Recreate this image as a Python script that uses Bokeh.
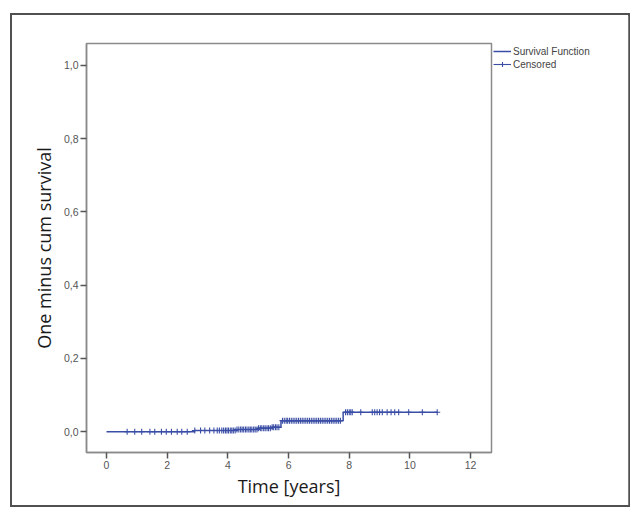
from bokeh.plotting import figure
from bokeh.models import (ColumnDataSource, Legend, LegendItem, FixedTicker,
                          CustomJSTickFormatter, Range1d)
from bokeh.embed import file_html
from bokeh.resources import INLINE
import numpy as np

# Step function of one minus cumulative survival
event_times = [0.0, 2.9, 4.3, 5.0, 5.45, 5.75, 7.8, 10.9]
event_values = [0.0, 0.003, 0.006, 0.009, 0.012, 0.030, 0.053, 0.053]

# Censored observation times (years)
censored_times = [
    0.68, 0.93, 1.16, 1.43, 1.59, 1.81, 1.97, 2.14, 2.33, 2.48, 2.66, 2.91,
    3.10, 3.24, 3.40, 3.54, 3.65, 3.72, 3.80, 3.86, 3.92, 3.97, 4.02, 4.08,
    4.13, 4.18, 4.24, 4.30, 4.36, 4.42, 4.47, 4.52, 4.58, 4.63, 4.69, 4.74,
    4.79, 4.85, 4.90, 4.96, 5.01, 5.07, 5.12, 5.18, 5.23, 5.29, 5.34, 5.40,
    5.46, 5.51, 5.57, 5.62, 5.68,
    5.80, 5.86, 5.92, 5.97, 6.03, 6.09, 6.15, 6.21, 6.27, 6.33, 6.39, 6.45,
    6.51, 6.57, 6.63, 6.69, 6.75, 6.81, 6.87, 6.93, 6.99, 7.05, 7.11, 7.17,
    7.23, 7.29, 7.35, 7.41, 7.47, 7.53, 7.59, 7.65, 7.71,
    7.88, 7.94, 8.00, 8.05, 8.10, 8.38, 8.76, 8.84, 8.92, 9.00, 9.09, 9.25,
    9.38, 9.50, 9.63, 9.96, 10.41, 10.90,
]

x_ticks = [0, 2, 4, 6, 8, 10, 12]
y_ticks = [0.0, 0.2, 0.4, 0.6, 0.8, 1.0]

# value of the step function at each censored time
idx = np.searchsorted(np.array(event_times), np.array(censored_times), side="right") - 1
censored_values = [event_values[i] for i in idx]

COL = "#3b4ea6"

p = figure(frame_width=405, frame_height=409, output_backend="svg",
           toolbar_location=None,
           x_range=Range1d(-0.66, 12.69), y_range=Range1d(-0.057, 1.06),
           min_border_left=74, min_border_top=28, min_border_right=137,
           min_border_bottom=53)
p.styles = {"margin-left": "12px", "margin-top": "15px",
            "width": "616px", "height": "490px",
            "outline": "2px solid #505050"}
p.grid.visible = False
p.outline_line_color = "#8a8a8a"
p.outline_line_width = 1.5
p.background_fill_color = "white"
p.border_fill_color = "white"

line_src = ColumnDataSource(dict(t=event_times, v=event_values))
cen_src = ColumnDataSource(dict(t=censored_times, v=censored_values))

step_r = p.step("t", "v", source=line_src, mode="after", line_color=COL,
                line_width=1.5)
cen_r = p.scatter("t", "v", source=cen_src, marker="cross", size=6,
                  line_color=COL, line_width=1.1)
dummy = p.line([-5, -4], [-5, -4], line_color=COL, line_width=1.1)

for ax in (p.xaxis[0], p.yaxis[0]):
    ax.axis_line_color = "#8a8a8a"
    ax.axis_line_width = 1.5
    ax.major_tick_line_color = "#555555"
    ax.major_tick_line_width = 1.5
    ax.major_tick_out = 6
    ax.major_tick_in = 0
    ax.minor_tick_out = 0
    ax.minor_tick_in = 0
    ax.major_label_text_font = "Liberation Sans"
    ax.major_label_text_font_size = "10.5px"
    ax.major_label_text_color = "#555555"
    ax.major_label_standoff = 2
    ax.axis_label_text_font = "Open Sans"
    ax.axis_label_text_font_size = "18px"
    ax.axis_label_text_font_style = "normal"
    ax.axis_label_text_color = "#1a1a1a"

p.xaxis.ticker = FixedTicker(ticks=x_ticks)
p.yaxis.ticker = FixedTicker(ticks=y_ticks)
p.yaxis.formatter = CustomJSTickFormatter(
    code="return tick.toFixed(1).replace('.', ',');")
p.xaxis.axis_label = "Time [years]"
p.yaxis.axis_label = "One minus cum survival"
p.xaxis.axis_label_standoff = 2
p.yaxis.axis_label_standoff = 5

legend = Legend(items=[
    LegendItem(label="Survival Function", renderers=[step_r]),
    LegendItem(label="Censored", renderers=[dummy, cen_r]),
], location="top_left")
legend.label_text_font = "Liberation Sans"
legend.label_text_font_size = "10px"
legend.label_text_color = "#444444"
legend.glyph_width = 18
legend.glyph_height = 12
legend.label_height = 12
legend.label_standoff = 2
legend.spacing = 1
legend.padding = 0
legend.margin = 2
legend.border_line_color = None
legend.background_fill_alpha = 0
p.add_layout(legend, "right")

open("out.html", "w").write(file_html(p, INLINE))
